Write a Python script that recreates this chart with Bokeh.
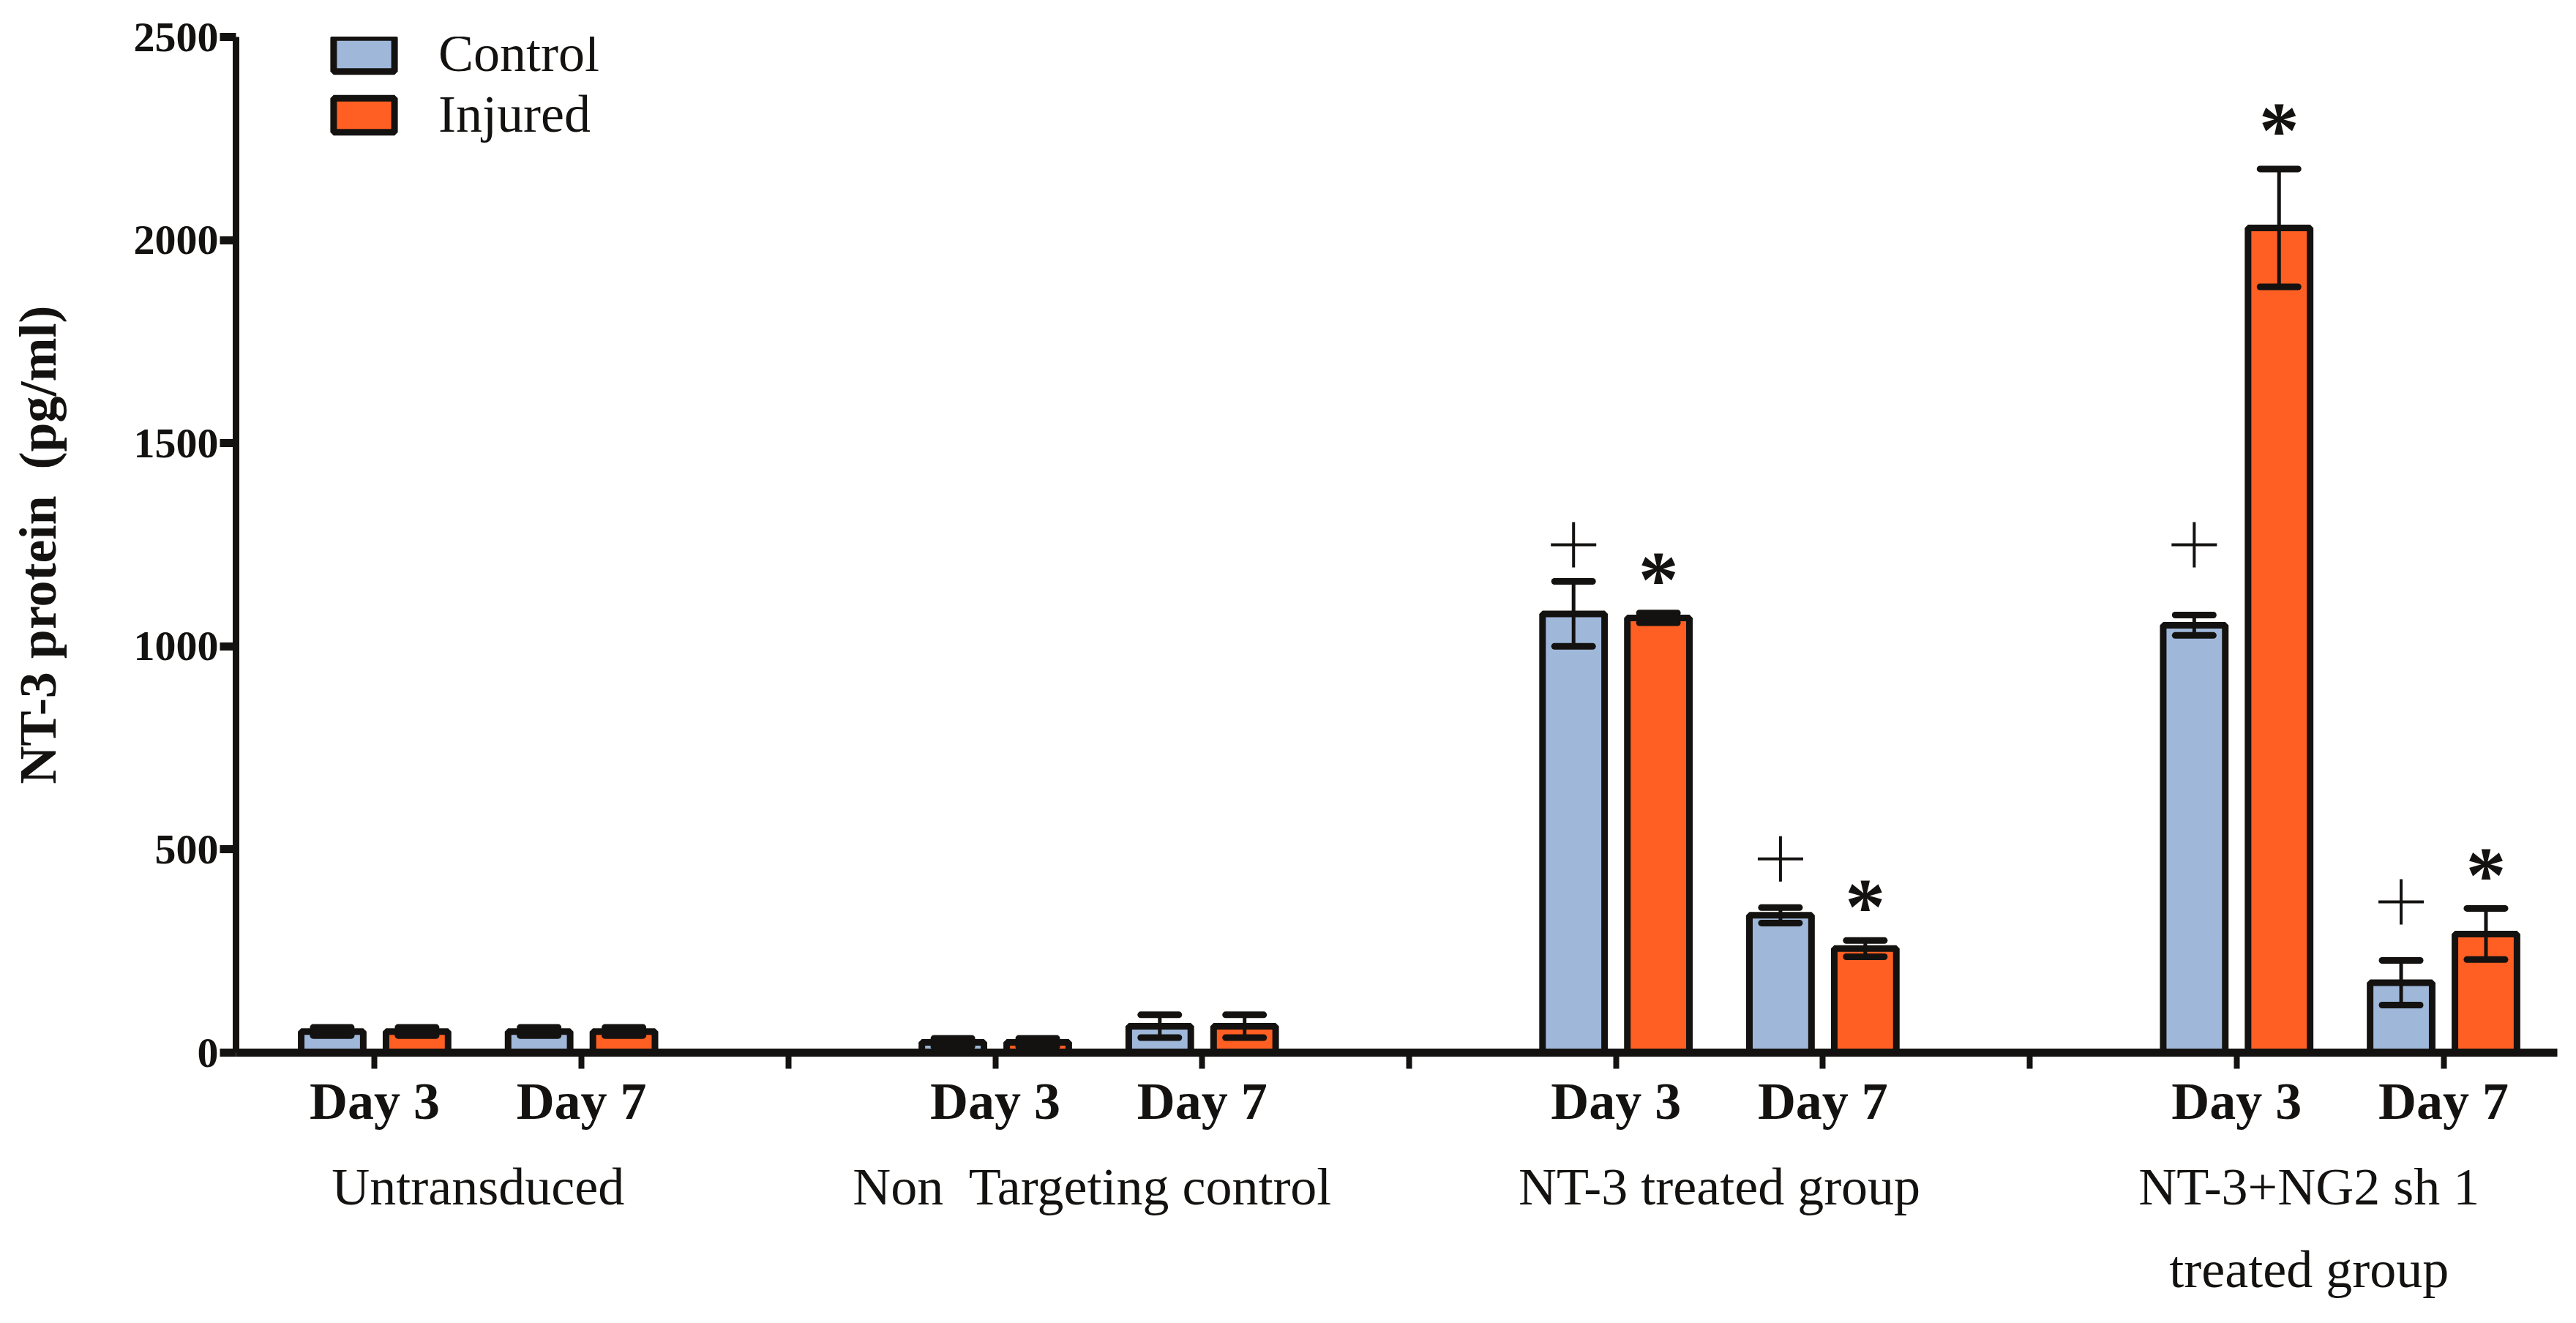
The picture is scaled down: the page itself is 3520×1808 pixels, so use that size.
from bokeh.plotting import figure
from bokeh.models import FixedTicker, Range1d, Legend, LegendItem, LinearAxis
from bokeh.core.properties import value
from bokeh.embed import file_html
from bokeh.resources import INLINE

# bar slots along the x axis (3, 6 and 9 are the group separators)
day_x = [1, 2, 4, 5, 7, 8, 10, 11]
day_labels = ["Day 3", "Day 7"] * 4
groups = ["Untransduced", "Non\u00a0 Targeting control", "NT-3 treated group",
          "NT-3+NG2 sh 1\ntreated group"]
group_x = [1.5, 4.47, 7.5, 10.35]

control = [52, 52, 25, 65, 1080, 338, 1052, 172]
control_err = [10, 10, 10, 28, 80, 19, 25, 55]
injured = [52, 52, 25, 65, 1070, 256, 2030, 292]
injured_err = [10, 10, 10, 28, 12, 20, 145, 63]

# significance marks: "+" over control, "*" over injured (slots 7, 8, 10, 11)
mark_x = [7, 8, 10, 11]
plus_y = [1250, 477, 1250, 371]
star_y = [1196, 391, 2303, 469]

CTRL = "#9FB8DA"
INJ = "#FF5F22"
INK = "#141210"
FONT = "Liberation Serif"

off = 0.205
bw = 0.30
cap = 0.092

p = figure(width=3504, height=1792, output_backend="svg", toolbar_location=None,
           x_range=Range1d(0.33, 11.55), y_range=Range1d(0, 2500),
           min_border_left=322, min_border_right=10, min_border_top=50,
           min_border_bottom=354)
p.outline_line_color = None
p.grid.visible = False

cx = [x - off for x in day_x]
ix = [x + off for x in day_x]
r_ctrl = p.vbar(x=cx, top=control, width=bw, fill_color=CTRL, line_color=INK, line_width=9)
r_inj = p.vbar(x=ix, top=injured, width=bw, fill_color=INJ, line_color=INK, line_width=9)

for xs, m, e in [(cx, control, control_err), (ix, injured, injured_err)]:
    lo = [a - b for a, b in zip(m, e)]
    hi = [a + b for a, b in zip(m, e)]
    p.segment(x0=xs, y0=lo, x1=xs, y1=hi, line_color=INK, line_width=5)
    p.segment(x0=[x - cap for x in xs], y0=hi, x1=[x + cap for x in xs], y1=hi,
              line_color=INK, line_width=9, line_cap="round")
    p.segment(x0=[x - cap for x in xs], y0=lo, x1=[x + cap for x in xs], y1=lo,
              line_color=INK, line_width=9, line_cap="round")

p.scatter(x=[x - off for x in mark_x], y=plus_y, marker="cross", size=62,
          line_color=INK, line_width=4)
p.text(x=[x + off for x in mark_x], y=star_y, text=["*"] * 4, y_offset=18,
       text_font=value(FONT), text_font_style="bold", text_font_size="110px",
       text_align="center", text_baseline="middle", text_color=INK)

# axes
p.yaxis.ticker = FixedTicker(ticks=[0, 500, 1000, 1500, 2000, 2500])
p.xaxis.ticker = FixedTicker(ticks=list(range(1, 12)))
p.xaxis.major_label_overrides = {x: lab for x, lab in zip(day_x, day_labels)} | {3: "", 6: "", 9: ""}
for ax in [p.xaxis[0], p.yaxis[0]]:
    ax.axis_line_color = INK
    ax.major_tick_line_color = INK
    ax.major_tick_out = 22
    ax.major_tick_in = 0
    ax.minor_tick_line_color = None
    ax.major_label_text_font = FONT
    ax.major_label_text_font_style = "bold"
    ax.major_label_text_color = INK
p.xaxis.axis_line_width = 11
p.xaxis.major_tick_line_width = 8
p.yaxis.axis_line_width = 9
p.yaxis.major_tick_line_width = 11
p.yaxis.major_label_text_font_size = "58px"
p.yaxis.major_label_standoff = 2
p.xaxis.major_label_text_font_size = "72px"
p.xaxis.major_label_standoff = 4
p.yaxis.axis_label = "NT-3 protein\u00a0 (pg/ml)"
p.yaxis.axis_label_text_font = FONT
p.yaxis.axis_label_text_font_style = "bold"
p.yaxis.axis_label_text_font_size = "72px"
p.yaxis.axis_label_text_color = INK
p.yaxis.axis_label_standoff = 88

# group names on a second bottom axis
gaxis = LinearAxis(ticker=FixedTicker(ticks=group_x),
                   major_label_overrides=dict(zip(group_x, groups)),
                   axis_line_color=None, major_tick_line_color=None,
                   minor_tick_line_color=None, major_label_standoff=28,
                   major_label_text_font=FONT, major_label_text_font_size="72px",
                   major_label_text_color=INK, major_label_text_line_height=1.42)
p.add_layout(gaxis, "below")

legend = Legend(items=[LegendItem(label="Control", renderers=[r_ctrl]),
                       LegendItem(label="Injured", renderers=[r_inj])],
                location=(123, 1240), glyph_width=104, glyph_height=58,
                label_text_font=FONT, label_text_font_size="72px",
                label_text_color=INK, label_standoff=50, spacing=0,
                padding=0, margin=0, border_line_color=None,
                background_fill_alpha=0)
p.add_layout(legend)

open("out.html", "w").write(file_html(p, INLINE))
